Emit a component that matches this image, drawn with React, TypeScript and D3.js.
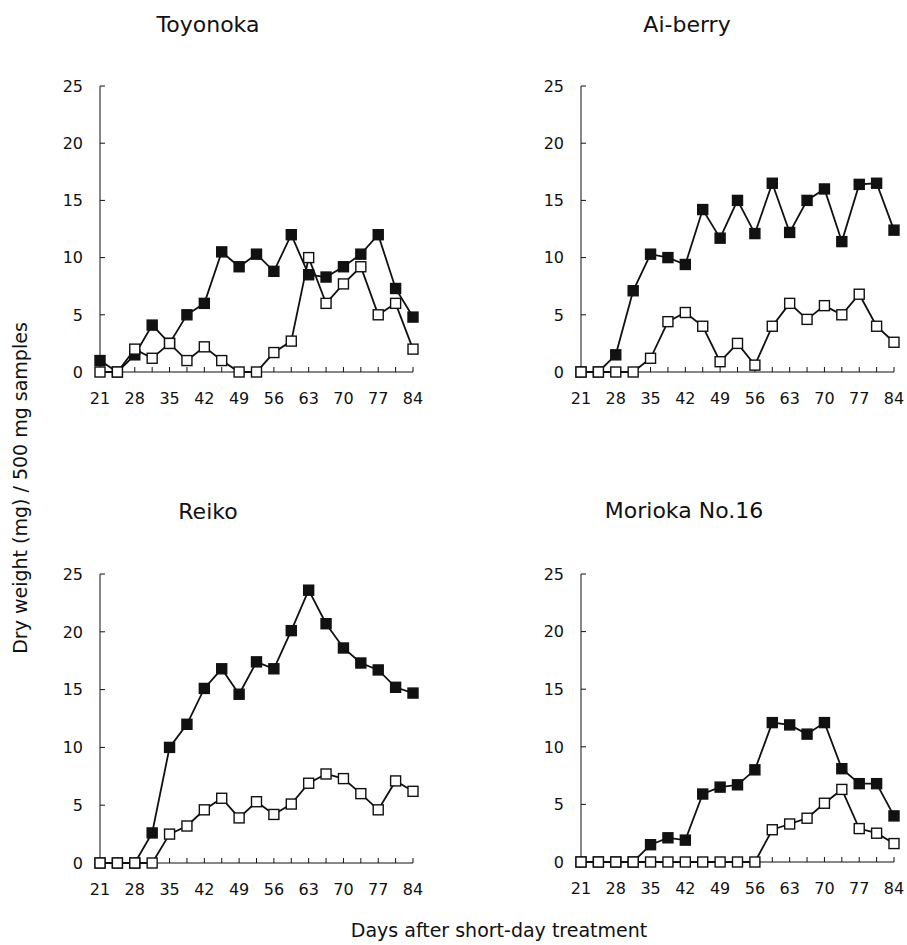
import React from 'react';
import * as d3 from 'd3';

const days = [21, 24.5, 28, 31.5, 35, 38.5, 42, 45.5, 49, 52.5, 56, 59.5, 63, 66.5, 70, 73.5, 77, 80.5, 84];
const dayLabels = [21, 28, 35, 42, 49, 56, 63, 70, 77, 84];
const yTicks = [0, 5, 10, 15, 20, 25];

const toyonokaFilled = [1.0, 0, 1.5, 4.1, 2.5, 5.0, 6.0, 10.5, 9.2, 10.3, 8.8, 12.0, 8.5, 8.3, 9.2, 10.3, 12.0, 7.3, 4.8];
const toyonokaOpen = [0, 0, 2.0, 1.2, 2.5, 1.0, 2.2, 1.0, 0, 0, 1.7, 2.7, 10.0, 6.0, 7.7, 9.2, 5.0, 6.0, 2.0];

const aiberryFilled = [0, 0, 1.5, 7.1, 10.3, 10.0, 9.4, 14.2, 11.7, 15.0, 12.1, 16.5, 12.2, 15.0, 16.0, 11.4, 16.4, 16.5, 12.4];
const aiberryOpen = [0, 0, 0, 0, 1.2, 4.4, 5.2, 4.0, 0.9, 2.5, 0.6, 4.0, 6.0, 4.6, 5.8, 5.0, 6.8, 4.0, 2.6];

const reikoFilled = [0, 0, 0, 2.6, 10.0, 12.0, 15.1, 16.8, 14.6, 17.4, 16.8, 20.1, 23.6, 20.7, 18.6, 17.3, 16.7, 15.2, 14.7];
const reikoOpen = [0, 0, 0, 0, 2.5, 3.2, 4.6, 5.6, 3.9, 5.3, 4.2, 5.1, 6.9, 7.7, 7.3, 6.0, 4.6, 7.1, 6.2];

const moriokaFilled = [0, 0, 0, 0, 1.5, 2.1, 1.9, 5.9, 6.5, 6.7, 8.0, 12.1, 11.9, 11.1, 12.1, 8.1, 6.8, 6.8, 4.0];
const moriokaOpen = [0, 0, 0, 0, 0, 0, 0, 0, 0, 0, 0, 2.8, 3.3, 3.8, 5.1, 6.3, 2.9, 2.5, 1.6];

const font = '"DejaVu Sans", sans-serif';
const ink = '#111';

type PanelProps = {
  title: string;
  filled: number[];
  open: number[];
  x0: number;
  x1: number;
  y0: number;
  y25: number;
  titleX: number;
  titleY: number;
};

const Panel = ({ title, filled, open, x0, x1, y0, y25, titleX, titleY }: PanelProps) => {
  const x = d3.scaleLinear().domain([21, 84]).range([x0, x1]);
  const y = d3.scaleLinear().domain([0, 25]).range([y0, y25]);
  const line = d3.line<number>()
    .x((d, i) => x(days[i]))
    .y(d => y(d));
  const s = 10;

  const series = (vals: number[], fill: string) => (
    <g>
      <path d={line(vals) || ''} fill="none" stroke={ink} strokeWidth={1.8} />
      {vals.map((v, i) => (
        <rect key={i} x={x(days[i]) - s / 2} y={y(v) - s / 2} width={s} height={s}
          fill={fill} stroke={ink} strokeWidth={1.4} />
      ))}
    </g>
  );

  return (
    <g>
      <text x={titleX} y={titleY} fontSize={22} fontFamily={font} fill={ink} textAnchor="middle">{title}</text>
      {/* y axis */}
      <line x1={x0} x2={x0} y1={y(0)} y2={y(25)} stroke={ink} strokeWidth={1} />
      {yTicks.map(t => (
        <g key={t}>
          <line x1={x0} x2={x0 + 5} y1={y(t)} y2={y(t)} stroke={ink} strokeWidth={1} />
          <text x={x0 - 17} y={y(t)} dy="0.36em" textAnchor="end" fontSize={16}
            fontFamily={font} fill={ink}>{t}</text>
        </g>
      ))}
      {/* x axis */}
      <line x1={x0} x2={x1} y1={y(0)} y2={y(0)} stroke={ink} strokeWidth={1} />
      {days.map(d => (
        <line key={d} x1={x(d)} x2={x(d)} y1={y(0)} y2={y(0) - 5} stroke={ink} strokeWidth={1} />
      ))}
      {dayLabels.map(d => (
        <text key={d} x={x(d)} y={y(0) + 32} textAnchor="middle" fontSize={16}
          fontFamily={font} fill={ink}>{d}</text>
      ))}
      {series(filled, ink)}
      {series(open, '#fff')}
    </g>
  );
};

export default function App() {
  return (
    <svg width={907} height={945} style={{ position: 'absolute', left: 0, top: 0, background: '#fff' }}>
      <Panel title="Toyonoka" filled={toyonokaFilled} open={toyonokaOpen}
        x0={100} x1={413} y0={372} y25={86} titleX={208} titleY={32} />
      <Panel title="Ai-berry" filled={aiberryFilled} open={aiberryOpen}
        x0={581} x1={894} y0={372} y25={86} titleX={687} titleY={32} />
      <Panel title="Reiko" filled={reikoFilled} open={reikoOpen}
        x0={100} x1={413} y0={863} y25={574} titleX={208} titleY={519} />
      <Panel title="Morioka No.16" filled={moriokaFilled} open={moriokaOpen}
        x0={581} x1={894} y0={862} y25={574} titleX={684} titleY={518} />
      <text transform="translate(27,488) rotate(-90)" textAnchor="middle" fontSize={19}
        fontFamily={font} fill={ink}>Dry weight (mg) / 500 mg samples</text>
      <text x={499} y={937} textAnchor="middle" fontSize={19} fontFamily={font} fill={ink}>
        Days after short-day treatment</text>
    </svg>
  );
}
